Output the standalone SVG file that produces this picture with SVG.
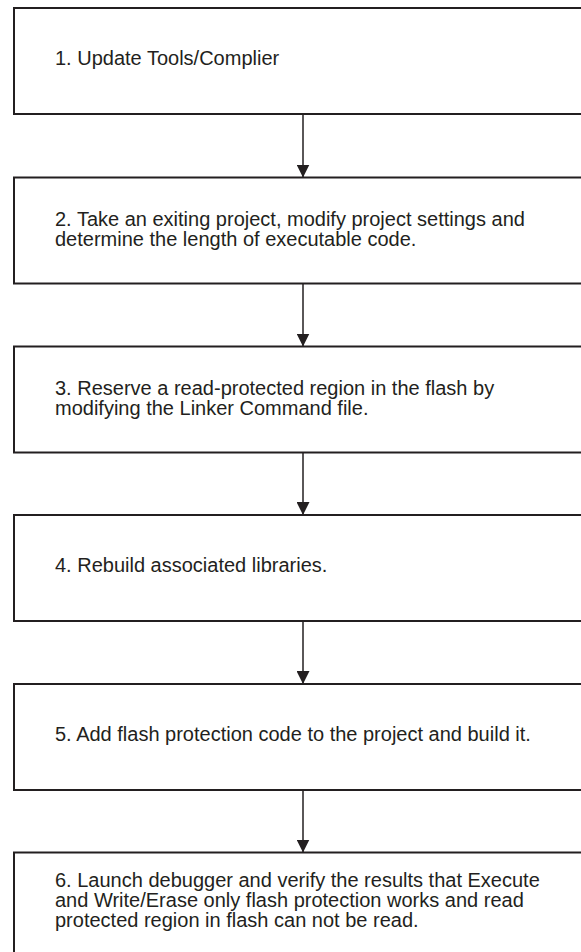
<svg xmlns="http://www.w3.org/2000/svg" width="581" height="952" viewBox="0 0 581 952">
<style>
.box{fill:#fff;stroke:#231f20;stroke-width:2}
.t{font-family:"Liberation Sans",Arial,sans-serif;font-size:20px;fill:#231f20}
.c{stroke:#231f20;stroke-width:1.5;fill:none}
</style>
<defs>
<marker id="ah" markerUnits="userSpaceOnUse" markerWidth="14" markerHeight="13" refX="13" refY="6.5" orient="auto">
<path d="M0,0 L13,6.5 L0,13 Z" fill="#231f20"/>
</marker>
</defs>
<rect width="581" height="952" fill="#fff"/>
<g id="connectors">
<line class="c" x1="303" y1="114" x2="303" y2="177.5" marker-end="url(#ah)"/>
<line class="c" x1="303" y1="283.5" x2="303" y2="346.5" marker-end="url(#ah)"/>
<line class="c" x1="303" y1="452.5" x2="303" y2="515" marker-end="url(#ah)"/>
<line class="c" x1="303" y1="621" x2="303" y2="684" marker-end="url(#ah)"/>
<line class="c" x1="303" y1="790" x2="303" y2="852.5" marker-end="url(#ah)"/>
</g>
<g id="n1">
<rect class="box" x="14" y="8" width="578" height="106"/>
<text class="t" x="55" y="65">1. Update Tools/Complier</text>
</g>
<g id="n2">
<rect class="box" x="14" y="177.5" width="578" height="106"/>
<text class="t" x="55" y="226">2. Take an exiting project, modify project settings and</text>
<text class="t" x="55" y="246">determine the length of executable code.</text>
</g>
<g id="n3">
<rect class="box" x="14" y="346.5" width="578" height="106"/>
<text class="t" x="55" y="395">3. Reserve a read-protected region in the flash by</text>
<text class="t" x="55" y="415">modifying the Linker Command file.</text>
</g>
<g id="n4">
<rect class="box" x="14" y="515" width="578" height="106"/>
<text class="t" x="55" y="572">4. Rebuild associated libraries.</text>
</g>
<g id="n5">
<rect class="box" x="14" y="684" width="578" height="106"/>
<text class="t" x="55" y="741">5. Add flash protection code to the project and build it.</text>
</g>
<g id="n6">
<rect class="box" x="14" y="852.5" width="578" height="106"/>
<text class="t" x="55" y="887">6. Launch debugger and verify the results that Execute</text>
<text class="t" x="55" y="907">and Write/Erase only flash protection works and read</text>
<text class="t" x="55" y="927">protected region in flash can not be read.</text>
</g>
</svg>
